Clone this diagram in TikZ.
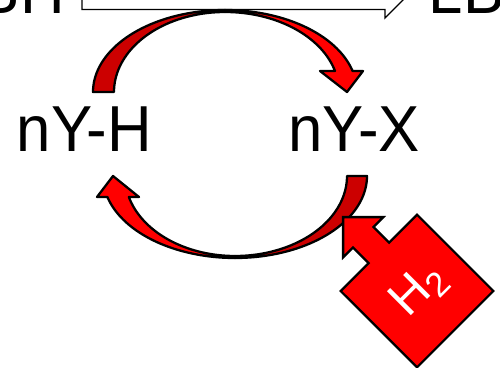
\documentclass[tikz,border=0pt]{standalone}
\usepackage{fontspec}
\setmainfont{Liberation Sans}
\usetikzlibrary{positioning,calc}

\begin{document}
\begin{tikzpicture}[
    x=0.02cm, y=-0.02cm,
    species/.style={
        inner sep=0pt,
        xscale=0.95,
        font=\fontsize{37}{40}\selectfont
    },
    ribbonfront/.style={
        draw=black,
        fill=cycred,
        line width=1.3pt,
        line join=round
    },
    ribbonback/.style={
        draw=black,
        fill=cycdark,
        line width=1.3pt,
        line join=round
    },
    blockarrow/.style={
        draw=black,
        fill=white,
        line width=0.8pt
    },
    callout/.style={
        draw=black,
        fill=cycred,
        line width=1.3pt,
        line join=miter
    }
]

\definecolor{cycred}{RGB}{255,0,0}
\definecolor{cycdark}{RGB}{204,0,0}

\useasboundingbox (0,0) rectangle (500,368);
\clip (0,0) rectangle (500,368);

% Overall conversion at the top
\node[species, anchor=base east] (bh) at (65,14) {BH};
\node[species, anchor=base west] (lbh) at (428.5,14) {LBH};
\draw[blockarrow] (82,-15) -- (385,-15) -- (385,-24) -- (406,-3) -- (385,18) -- (385,9.5) -- (82,9.5) -- cycle;

% Catalyst states
\node[species, anchor=base west] (yh) at (16.6,152) {nY-H};
\node[species, anchor=base west] (yx) at (287.9,152) {nY-X};

% Upper curved arrow
\draw[ribbonback] plot[domain=180:270, samples=40] ({225+132*cos(\x)},{92+82*sin(\x)})
    -- plot[domain=270:180, samples=40] ({225+111*cos(\x)},{92+80*sin(\x)}) -- cycle;
\draw[ribbonfront] plot[domain=-90:-14.84, samples=40] ({225+132*cos(\x)},{92+82*sin(\x)})
    -- (363,71) -- (347,92) -- (320,71)
    -- plot[domain=-15.22:-90, samples=40] ({225+114*cos(\x)},{92+80*sin(\x)}) -- cycle;

% Lower curved arrow
\draw[ribbonback] plot[domain=0:90, samples=40] ({235+132*cos(\x)},{176+82*sin(\x)})
    -- plot[domain=90:0, samples=40] ({235+112*cos(\x)},{176+80*sin(\x)}) -- cycle;
\draw[ribbonfront] plot[domain=90:165.16, samples=40] ({235+132*cos(\x)},{176+82*sin(\x)})
    -- (97,197) -- (113,176) -- (139,197)
    -- plot[domain=164.78:90, samples=40] ({235+110*cos(\x)},{176+80*sin(\x)}) -- cycle;

% Hydrogen callout
\begin{scope}[shift={(417,291)}, rotate=-45]
\draw[callout] (-54,-54) -- (54,-54) -- (54,54) -- (-54,54) -- (-54,14.5) -- (-76,14.5)
    -- (-76,28.5) -- (-104.5,0) -- (-76,-28.5) -- (-76,-14.5) -- (-54,-14.5) -- cycle;
\end{scope}
\node[inner sep=0pt, rotate=45, text=white, font=\fontsize{28}{30}\selectfont] (htwo) at (419,290) {H\textsubscript{2}};

\end{tikzpicture}
\end{document}
